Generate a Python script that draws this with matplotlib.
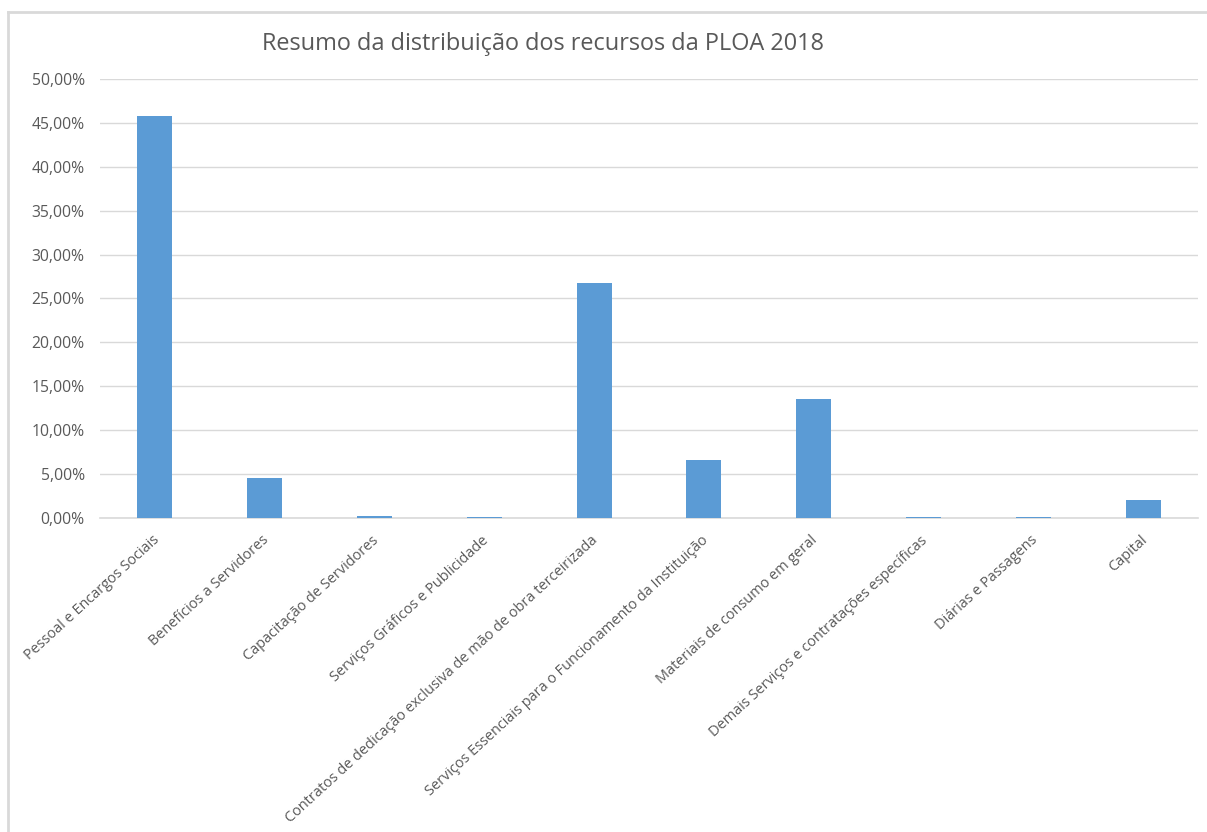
import matplotlib
matplotlib.use("Agg")
import matplotlib.pyplot as plt
from matplotlib.ticker import FuncFormatter, MultipleLocator
from matplotlib.lines import Line2D
import matplotlib.transforms as mtransforms

categories = [
    "Pessoal e Encargos Sociais",
    "Benefícios a Servidores",
    "Capacitação de Servidores",
    "Serviços Gráficos e Publicidade",
    "Contratos de dedicação exclusiva de mão de obra terceirizada",
    "Serviços Essenciais para o Funcionamento da Instituição",
    "Materiais de consumo em geral",
    "Demais Serviços e contratações específicas",
    "Diárias e Passagens",
    "Capital",
]
values = [0.4580, 0.0458, 0.0023, 0.0010, 0.2680, 0.0660, 0.1355, 0.0010, 0.0010, 0.0210]
title = "Resumo da distribuição dos recursos da PLOA 2018"

plt.rcParams['font.family'] = ['Open Sans', 'DejaVu Sans']
text_color = "#595959"
grid_color = "#D9D9D9"
bar_color = "#5B9BD5"

fig = plt.figure(figsize=(12.07, 8.32), dpi=100)
ax = fig.add_axes([100/1207, 1-518/832, (1198-100)/1207, (518-79)/832])

x = list(range(len(categories)))
ax.bar(x, values, width=0.32, color=bar_color, zorder=3)

ax.set_xlim(-0.5, len(categories)-0.5)
ax.set_ylim(0, 0.5)
ax.yaxis.set_major_locator(MultipleLocator(0.05))
ax.yaxis.set_major_formatter(FuncFormatter(lambda v, p: f"{v*100:.2f}".replace(".", ",") + "%"))
ax.grid(axis='y', color=grid_color, linewidth=1, zorder=0)
for s in ['top', 'right', 'left']:
    ax.spines[s].set_visible(False)
ax.spines['bottom'].set_color(grid_color)
ax.spines['bottom'].set_linewidth(1.2)
ax.tick_params(axis='both', length=0, colors=text_color)
ax.tick_params(axis='y', pad=11, labelsize=11.3)

ax.set_xticks(x)
ax.set_xticklabels(categories, rotation=42.5, ha='right', rotation_mode='anchor', fontsize=10.45, color=text_color)
offset = mtransforms.ScaledTranslation(-3/100, -10/100, fig.dpi_scale_trans)
for lbl in ax.get_xticklabels():
    lbl.set_transform(lbl.get_transform() + offset)

fig.text(543/1207, 1-44/832, title, ha='center', va='center', fontsize=16.9, color=text_color)

# chart area border (left and top edges visible)
fig.add_artist(Line2D([8/1207, 8/1207], [0, 1-12/832], transform=fig.transFigure, color=grid_color, linewidth=2))
fig.add_artist(Line2D([8/1207, 1], [1-12/832, 1-12/832], transform=fig.transFigure, color=grid_color, linewidth=2))

fig.savefig("out.png", dpi=100, facecolor="white")
